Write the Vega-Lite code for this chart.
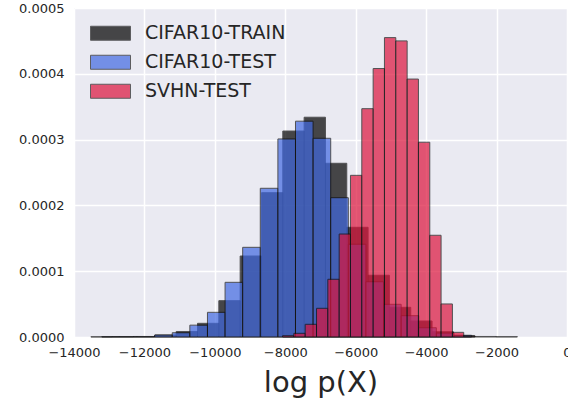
{
  "$schema": "https://vega.github.io/schema/vega-lite/v6.json",
  "width": 493,
  "height": 329,
  "autosize": {"type": "none"},
  "padding": {"left": 74, "top": 8, "right": 1, "bottom": 65},
  "background": "white",
  "config": {
    "view": {"fill": "#EAEAF2", "stroke": null},
    "font": "DejaVu Sans",
    "axis": {"domain": false, "ticks": false, "gridColor": "white", "gridWidth": 1.5, "labelFont": "DejaVu Sans", "labelFontSize": 13, "labelColor": "#262626", "titleColor": "#262626", "titleFont": "DejaVu Sans", "titleFontWeight": "normal", "labelOverlap": false, "labelFlush": false},
    "legend": {"orient": "none", "legendX": 16, "legendY": 11, "labelFont": "DejaVu Sans", "labelFontSize": 19, "labelColor": "#262626", "symbolType": "M-1,-0.35L1,-0.35L1,0.35L-1,0.35Z", "symbolSize": 1600, "symbolOpacity": 0.7, "symbolStrokeColor": "#222222", "symbolStrokeWidth": 1, "labelOffset": 14, "rowPadding": 0, "clipHeight": 28.5}
  },
  "data": {"values": [
    {"set": "CIFAR10-TRAIN", "x0": -13520, "x1": -12914.5, "density": 0.0000003},
    {"set": "CIFAR10-TRAIN", "x0": -12914.5, "x1": -12309, "density": 0.0000005},
    {"set": "CIFAR10-TRAIN", "x0": -12309, "x1": -11703.5, "density": 0.0000008},
    {"set": "CIFAR10-TRAIN", "x0": -11703.5, "x1": -11098, "density": 0.000003},
    {"set": "CIFAR10-TRAIN", "x0": -11098, "x1": -10492.5, "density": 0.0000084},
    {"set": "CIFAR10-TRAIN", "x0": -10492.5, "x1": -9887, "density": 0.0000208},
    {"set": "CIFAR10-TRAIN", "x0": -9887, "x1": -9281.5, "density": 0.0000552},
    {"set": "CIFAR10-TRAIN", "x0": -9281.5, "x1": -8676, "density": 0.0001231},
    {"set": "CIFAR10-TRAIN", "x0": -8676, "x1": -8070.5, "density": 0.0002193},
    {"set": "CIFAR10-TRAIN", "x0": -8070.5, "x1": -7465, "density": 0.000313},
    {"set": "CIFAR10-TRAIN", "x0": -7465, "x1": -6859.5, "density": 0.000334},
    {"set": "CIFAR10-TRAIN", "x0": -6859.5, "x1": -6254, "density": 0.000264},
    {"set": "CIFAR10-TRAIN", "x0": -6254, "x1": -5648.5, "density": 0.0001667},
    {"set": "CIFAR10-TRAIN", "x0": -5648.5, "x1": -5043, "density": 0.0000938},
    {"set": "CIFAR10-TRAIN", "x0": -5043, "x1": -4437.5, "density": 0.0000451},
    {"set": "CIFAR10-TRAIN", "x0": -4437.5, "x1": -3832, "density": 0.0000243},
    {"set": "CIFAR10-TRAIN", "x0": -3832, "x1": -3226.5, "density": 0.000008},
    {"set": "CIFAR10-TRAIN", "x0": -3226.5, "x1": -2621, "density": 0.0000023},
    {"set": "CIFAR10-TRAIN", "x0": -2621, "x1": -2015.5, "density": 0.0000008},
    {"set": "CIFAR10-TRAIN", "x0": -2015.5, "x1": -1410, "density": 0.0000005},
    {"set": "CIFAR10-TEST", "x0": -13210, "x1": -12710, "density": 0.0000005},
    {"set": "CIFAR10-TEST", "x0": -12710, "x1": -12210, "density": 0.0000005},
    {"set": "CIFAR10-TEST", "x0": -12210, "x1": -11710, "density": 0.0000005},
    {"set": "CIFAR10-TEST", "x0": -11710, "x1": -11210, "density": 0.000003},
    {"set": "CIFAR10-TEST", "x0": -11210, "x1": -10710, "density": 0.0000065},
    {"set": "CIFAR10-TEST", "x0": -10710, "x1": -10210, "density": 0.000018},
    {"set": "CIFAR10-TEST", "x0": -10210, "x1": -9710, "density": 0.0000375},
    {"set": "CIFAR10-TEST", "x0": -9710, "x1": -9210, "density": 0.0000831},
    {"set": "CIFAR10-TEST", "x0": -9210, "x1": -8710, "density": 0.0001363},
    {"set": "CIFAR10-TEST", "x0": -8710, "x1": -8210, "density": 0.000226},
    {"set": "CIFAR10-TEST", "x0": -8210, "x1": -7710, "density": 0.000301},
    {"set": "CIFAR10-TEST", "x0": -7710, "x1": -7210, "density": 0.000328},
    {"set": "CIFAR10-TEST", "x0": -7210, "x1": -6710, "density": 0.000302},
    {"set": "CIFAR10-TEST", "x0": -6710, "x1": -6210, "density": 0.0002117},
    {"set": "CIFAR10-TEST", "x0": -6210, "x1": -5710, "density": 0.000141},
    {"set": "CIFAR10-TEST", "x0": -5710, "x1": -5210, "density": 0.000084},
    {"set": "CIFAR10-TEST", "x0": -5210, "x1": -4710, "density": 0.0000497},
    {"set": "CIFAR10-TEST", "x0": -4710, "x1": -4210, "density": 0.0000324},
    {"set": "CIFAR10-TEST", "x0": -4210, "x1": -3710, "density": 0.0000141},
    {"set": "CIFAR10-TEST", "x0": -3710, "x1": -3210, "density": 0.000006},
    {"set": "CIFAR10-TEST", "x0": -3210, "x1": -2710, "density": 0.0000026},
    {"set": "SVHN-TEST", "x0": -8078, "x1": -7757, "density": 0.000002},
    {"set": "SVHN-TEST", "x0": -7757, "x1": -7435, "density": 0.0000056},
    {"set": "SVHN-TEST", "x0": -7435, "x1": -7113, "density": 0.0000193},
    {"set": "SVHN-TEST", "x0": -7113, "x1": -6792, "density": 0.0000436},
    {"set": "SVHN-TEST", "x0": -6792, "x1": -6470, "density": 0.0000877},
    {"set": "SVHN-TEST", "x0": -6470, "x1": -6149, "density": 0.0001565},
    {"set": "SVHN-TEST", "x0": -6149, "x1": -5827, "density": 0.0002457},
    {"set": "SVHN-TEST", "x0": -5827, "x1": -5505, "density": 0.000347},
    {"set": "SVHN-TEST", "x0": -5505, "x1": -5184, "density": 0.000408},
    {"set": "SVHN-TEST", "x0": -5184, "x1": -4862, "density": 0.000455},
    {"set": "SVHN-TEST", "x0": -4862, "x1": -4540, "density": 0.00045},
    {"set": "SVHN-TEST", "x0": -4540, "x1": -4219, "density": 0.000392},
    {"set": "SVHN-TEST", "x0": -4219, "x1": -3897, "density": 0.000296},
    {"set": "SVHN-TEST", "x0": -3897, "x1": -3576, "density": 0.0001546},
    {"set": "SVHN-TEST", "x0": -3576, "x1": -3254, "density": 0.0000502},
    {"set": "SVHN-TEST", "x0": -3254, "x1": -2933, "density": 0.0000071},
    {"set": "SVHN-TEST", "x0": -2933, "x1": -2611, "density": 0.000001}
  ]},
  "mark": {"type": "bar", "opacity": 0.7, "stroke": "#111111", "strokeWidth": 1},
  "encoding": {
    "x": {"field": "x0", "type": "quantitative", "scale": {"domain": [-14000, 0], "nice": false}, "axis": {"values": [-14000, -12000, -10000, -8000, -6000, -4000, -2000, 0], "format": "d", "title": "log p(X)", "titleFontSize": 29, "labelPadding": 9, "titlePadding": 9, "grid": true}},
    "x2": {"field": "x1"},
    "y": {"field": "density", "type": "quantitative", "stack": null, "scale": {"domain": [0, 0.0005], "nice": false}, "axis": {"values": [0, 0.0001, 0.0002, 0.0003, 0.0004, 0.0005], "format": ".4f", "title": null, "labelPadding": 10}},
    "y2": {"datum": 0},
    "color": {"field": "set", "type": "nominal", "scale": {"domain": ["CIFAR10-TRAIN", "CIFAR10-TEST", "SVHN-TEST"], "range": ["#000000", "#4169E1", "#DC143C"]}, "legend": {"title": null}}
  }
}
